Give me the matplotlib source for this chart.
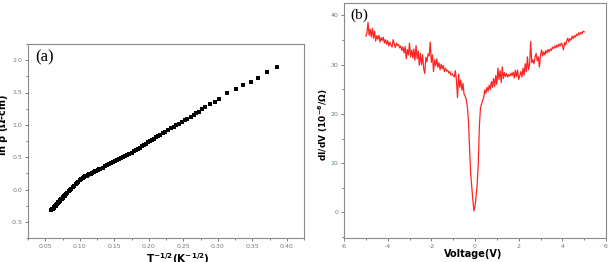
import numpy as np
import matplotlib.pyplot as plt
from matplotlib.ticker import MultipleLocator

plt.rcParams['axes.unicode_minus'] = False

# panel (a): ln rho vs T^-1/2
t_inv = [0.058, 0.059, 0.060, 0.061, 0.062, 0.063, 0.064, 0.065, 0.066, 0.067,
         0.068, 0.069, 0.070, 0.071, 0.072, 0.073, 0.074, 0.075, 0.076, 0.077,
         0.078, 0.079, 0.080, 0.082, 0.084, 0.086, 0.088, 0.090, 0.092, 0.094,
         0.096, 0.098, 0.100, 0.102, 0.104, 0.106, 0.108, 0.110, 0.112, 0.114,
         0.116, 0.118, 0.120, 0.122, 0.124, 0.126, 0.128, 0.130, 0.133, 0.136,
         0.139, 0.142, 0.145, 0.148, 0.151, 0.154, 0.157, 0.160, 0.163, 0.166,
         0.169, 0.172, 0.175, 0.178, 0.181, 0.184, 0.187, 0.190, 0.193, 0.196,
         0.199, 0.202, 0.205, 0.208, 0.211, 0.214, 0.217, 0.220, 0.224, 0.228,
         0.232, 0.236, 0.240, 0.244, 0.248, 0.252, 0.256, 0.261, 0.265, 0.269,
         0.273, 0.277, 0.282, 0.289, 0.296, 0.302, 0.314, 0.327, 0.337, 0.348,
         0.358, 0.371, 0.386]
ln_rho = [-0.320, -0.318, -0.308, -0.296, -0.284, -0.272, -0.260, -0.248, -0.236, -0.224,
          -0.212, -0.200, -0.188, -0.176, -0.164, -0.152, -0.141, -0.130, -0.118, -0.107,
          -0.096, -0.085, -0.074, -0.052, -0.030, -0.008, 0.014, 0.036, 0.058, 0.080,
          0.101, 0.122, 0.145, 0.161, 0.176, 0.190, 0.202, 0.214, 0.225, 0.236,
          0.247, 0.258, 0.269, 0.280, 0.291, 0.302, 0.313, 0.324, 0.340, 0.357,
          0.374, 0.390, 0.406, 0.422, 0.438, 0.454, 0.470, 0.486, 0.502, 0.518,
          0.535, 0.551, 0.569, 0.588, 0.607, 0.627, 0.647, 0.667, 0.687, 0.707,
          0.727, 0.747, 0.767, 0.788, 0.808, 0.828, 0.848, 0.867, 0.893, 0.919,
          0.945, 0.970, 0.995, 1.020, 1.045, 1.070, 1.095, 1.120, 1.149, 1.178,
          1.205, 1.238, 1.270, 1.315, 1.350, 1.392, 1.485, 1.547, 1.613, 1.670,
          1.726, 1.810, 1.896]

# panel (b): dI/dV vs voltage
volt = [-5.00, -4.95, -4.90, -4.85, -4.80, -4.75, -4.70, -4.65, -4.60, -4.55,
        -4.50, -4.45, -4.40, -4.35, -4.30, -4.25, -4.20, -4.15, -4.10, -4.05,
        -4.00, -3.95, -3.90, -3.85, -3.80, -3.75, -3.70, -3.65, -3.60, -3.55,
        -3.50, -3.45, -3.40, -3.35, -3.30, -3.25, -3.20, -3.15, -3.10, -3.05,
        -3.00, -2.95, -2.90, -2.85, -2.80, -2.75, -2.70, -2.65, -2.60, -2.55,
        -2.50, -2.45, -2.40, -2.35, -2.30, -2.25, -2.20, -2.15, -2.10, -2.05,
        -2.00, -1.95, -1.90, -1.85, -1.80, -1.75, -1.70, -1.65, -1.60, -1.55,
        -1.50, -1.45, -1.40, -1.35, -1.30, -1.25, -1.20, -1.15, -1.10, -1.05,
        -1.00, -0.95, -0.90, -0.85, -0.80, -0.75, -0.70, -0.65, -0.60, -0.55,
        -0.50, -0.45, -0.40, -0.35, -0.30, -0.25, -0.20, -0.15, -0.10, -0.05,
        0.00, 0.05, 0.10, 0.15, 0.20, 0.25, 0.30, 0.35,
        0.40, 0.45, 0.50, 0.55, 0.60, 0.65, 0.70, 0.75, 0.80, 0.85,
        0.90, 0.95, 1.00, 1.05, 1.10, 1.15, 1.20, 1.25, 1.30, 1.35,
        1.40, 1.45, 1.50, 1.55, 1.60, 1.65, 1.70, 1.75, 1.80, 1.85,
        1.90, 1.95, 2.00, 2.05, 2.10, 2.15, 2.20, 2.25, 2.30, 2.35,
        2.40, 2.45, 2.50, 2.55, 2.60, 2.65, 2.70, 2.75, 2.80, 2.85,
        2.90, 2.95, 3.00, 3.05, 3.10, 3.15, 3.20, 3.25, 3.30, 3.35,
        3.40, 3.45, 3.50, 3.55, 3.60, 3.65, 3.70, 3.75, 3.80, 3.85,
        3.90, 3.95, 4.00, 4.05, 4.10, 4.15, 4.20, 4.25, 4.30, 4.35,
        4.40, 4.45, 4.50, 4.55, 4.60, 4.65, 4.70, 4.75, 4.80, 4.85,
        4.90, 4.95, 5.00]
didv = [35.8, 36.4, 38.6, 36.0, 37.2, 35.6, 37.4, 35.4, 36.8, 34.8,
        35.9, 35.2, 36.0, 34.6, 35.5, 34.9, 35.6, 34.4, 35.1, 34.2,
        34.9, 33.8, 34.6, 34.0, 33.6, 35.1, 34.3, 33.5, 34.4, 33.9,
        34.1, 33.4, 33.8, 32.9, 33.6, 32.4, 33.7, 31.2, 33.1, 32.0,
        34.4, 31.6, 33.0, 31.4, 33.2, 30.9, 33.9, 31.2, 32.8, 29.9,
        32.3, 30.0, 32.0, 29.2, 28.2, 31.5, 30.6, 32.2, 31.8, 34.6,
        30.5, 32.0, 28.6, 31.0, 29.8, 31.2, 29.5, 30.4, 29.0, 30.1,
        29.2, 29.8, 28.6, 29.3, 28.7, 28.9, 28.3, 28.6, 27.9, 28.2,
        27.8, 27.5, 28.8, 26.8, 23.3, 28.1, 25.4, 26.9, 24.8, 26.2,
        24.0, 23.6, 22.9, 21.5, 18.5, 13.5, 8.0, 5.2, 2.6, 0.3,
        1.2, 3.3, 5.6, 10.0, 17.5, 21.2, 22.0, 22.8,
        23.3, 24.9, 24.2, 25.4, 24.6, 25.8, 25.0, 26.6, 25.4, 27.2,
        25.6, 27.8, 26.0, 29.3, 27.0, 28.8, 26.4, 29.6, 27.2, 28.4,
        27.6, 28.2, 27.5, 28.0, 27.7, 28.3, 27.8, 28.5, 27.3, 28.9,
        27.6, 28.9, 27.0, 27.8, 28.6, 27.5, 29.3, 27.9, 30.2, 28.6,
        31.6, 29.0, 30.0, 34.7, 30.4, 31.0, 30.2, 31.5, 32.3, 30.8,
        31.6, 29.5, 31.9, 33.0, 31.8, 32.6, 32.0, 32.9, 32.4, 33.1,
        32.6, 33.2, 32.9, 33.6, 33.3, 33.8, 33.4, 34.0, 33.6, 34.2,
        33.8, 34.4, 34.1, 33.0, 34.5, 34.0, 34.9, 35.4, 34.6, 35.3,
        35.0, 35.8, 35.3, 35.9, 35.6, 36.2, 35.9, 36.5, 36.1, 36.6,
        36.3, 36.8, 36.7]

frame_col = '#8a8a8a'

fig = plt.figure(figsize=(6.11, 2.62), dpi=100)
ax1 = fig.add_axes([28/611, 24/262, 276/611, 194/262])
ax2 = fig.add_axes([344/611, 24/262, 262/611, 235.3/262])

ax1.plot(t_inv, ln_rho, 's', color='black', ms=2.2, mew=0)
ax1.set_xlim(0.025, 0.425)
ax1.set_ylim(-0.75, 2.25)
ax1.xaxis.set_minor_locator(MultipleLocator(0.025))
ax1.yaxis.set_major_locator(MultipleLocator(0.5))
ax1.yaxis.set_minor_locator(MultipleLocator(0.25))
ax1.set_xticks([0.05, 0.10, 0.15, 0.20, 0.25, 0.30, 0.35, 0.40])
ax1.set_xticklabels(['0.05', '0.10', '0.15', '0.20', '0.25', '0.30', '0.35', '0.40'])
ax1.text(0.035, 2.05, '(a)', fontsize=12, family='Liberation Serif', va='center')

ax2.plot(volt, didv, color='#ff2424', lw=0.9)
ax2.set_xlim(-6, 6)
ax2.set_ylim(-5.2, 42.6)
ax2.xaxis.set_major_locator(MultipleLocator(2))
ax2.xaxis.set_minor_locator(MultipleLocator(1))
ax2.yaxis.set_major_locator(MultipleLocator(10))
ax2.yaxis.set_minor_locator(MultipleLocator(5))
ax2.text(-5.7, 40, '(b)', fontsize=11, family='Liberation Serif', va='center')

for ax, tcol in [(ax1, '#777777'), (ax2, '#5f8080')]:
    for s in ax.spines.values():
        s.set_color(frame_col)
        s.set_linewidth(0.8)
    ax.tick_params(which='both', direction='out', color='#666666', width=0.6,
                   labelsize=4.5, labelcolor=tcol, top=False, right=False, pad=1.5)
    ax.tick_params(which='major', length=2.5)
    ax.tick_params(which='minor', length=1.5)

fig.text(3/611, 1 - 125/262, r'ln $\mathbf{\rho}$ ($\mathbf{\Omega}$-cm)', rotation=90,
         fontsize=7, fontweight='bold', ha='center', va='center')
fig.text(178/611, 1 - 251/262, r'T$^{\mathbf{-1/2}}$(K$^{\mathbf{-1/2}}$)',
         fontsize=7.5, fontweight='bold', ha='center', va='top')
fig.text(323/611, 1 - 125/262, r'dI/dV (10$^{\mathbf{-6}}$/$\mathbf{\Omega}$)', rotation=90,
         fontsize=6.5, fontweight='bold', ha='center', va='center')
fig.text(473/611, 1 - 249/262, 'Voltage(V)', fontsize=7, fontweight='bold',
         ha='center', va='top')

fig.savefig('out.png', dpi=100)
